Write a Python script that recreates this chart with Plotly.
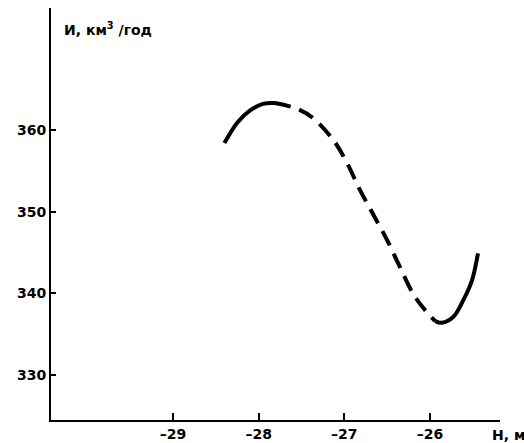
import plotly.graph_objects as go

# Solid left branch
solid1_h = [-28.40, -28.25, -28.10, -27.95, -27.81]
solid1_v = [358.4, 360.9, 362.4, 363.2, 363.3]
# Dashed middle branch
dash_h = [-27.81, -27.55, -27.37, -27.13, -26.97, -26.82, -26.67, -26.50, -26.35, -26.20, -26.07, -25.94]
dash_v = [363.3, 362.6, 361.5, 358.8, 356.0, 352.7, 349.8, 346.5, 343.2, 340.0, 338.1, 336.6]
# Solid right branch
solid2_h = [-25.94, -25.86, -25.73, -25.61, -25.51, -25.44]
solid2_v = [336.6, 336.4, 337.1, 339.2, 341.6, 344.9]

x_ticks = [-29, -28, -27, -26]
x_labels = ["–29", "–28", "–27", "–26"]
y_ticks = [330, 340, 350, 360]
y_labels = ["330", "340", "350", "360"]

FONT = "DejaVu Sans"
line = dict(color="black", width=4, shape="spline")

fig = go.Figure()
fig.add_trace(go.Scatter(x=solid1_h, y=solid1_v, mode="lines", line=line))
fig.add_trace(go.Scatter(x=dash_h, y=dash_v, mode="lines",
                         line=dict(color="black", width=4, shape="spline", dash="16px,9px")))
fig.add_trace(go.Scatter(x=solid2_h, y=solid2_v, mode="lines", line=line))

fig.update_layout(
    width=524, height=443,
    margin=dict(l=51, r=24, t=8, b=23),
    paper_bgcolor="white", plot_bgcolor="white",
    showlegend=False,
    font=dict(family=FONT, size=14, color="black"),
    xaxis=dict(range=[-30.424, -25.183], tickvals=x_ticks, ticktext=x_labels,
               automargin=False,
               showgrid=False, zeroline=False, showline=True, linecolor="black", linewidth=2,
               ticks="inside", ticklen=7, tickwidth=2, tickcolor="black",
               tickfont=dict(family=FONT, size=14, color="black", weight="bold")),
    yaxis=dict(range=[324.49, 374.94], tickvals=y_ticks, ticktext=y_labels,
               automargin=False,
               showgrid=False, zeroline=False, showline=True, linecolor="black", linewidth=2,
               ticks="inside", ticklen=5, tickwidth=2, tickcolor="black",
               tickfont=dict(family=FONT, size=14, color="black", weight="bold")),
    annotations=[
        dict(text="<b>И, км<sup>3</sup> /год</b>", xref="paper", yref="paper",
             x=0.025, y=0.95, xanchor="left", yanchor="middle", showarrow=False,
             font=dict(family=FONT, size=14, color="black")),
        dict(text="<b>H, м</b>", xref="paper", yref="paper",
             x=1.06, y=-0.037, xanchor="right", yanchor="middle", showarrow=False,
             font=dict(family=FONT, size=14, color="black")),
    ],
)

fig.write_html("out.html")
